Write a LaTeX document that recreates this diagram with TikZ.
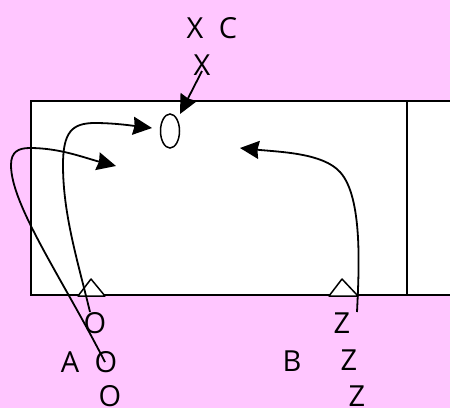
\documentclass[tikz,border=0pt]{standalone}
\usepackage{fontspec}
\setmainfont{Open Sans}
\usepackage{xcolor}
\usetikzlibrary{arrows.meta, positioning, calc, shapes.geometric}
\definecolor{bgpink}{HTML}{FFC6FF}
\tikzset{
  player/.style={inner sep=0pt, text=black, font=\fontsize{29}{29}\selectfont},
  cone/.style={draw=black, fill=white, line width=1.5pt, line join=round},
  arrow/.style={line width=1.8pt, -{Stealth[length=19pt, width=18pt, inset=1.5pt]}},
}
\begin{document}
\begin{tikzpicture}[x=1pt, y=-1pt]
\useasboundingbox (0,0) rectangle (450,408);
\clip (0,0) rectangle (450,408);
\fill[bgpink] (0,0) rectangle (450,408);

% Pitch
\draw[fill=white, line width=1.5pt] (31,101) rectangle (470,295);
\draw[line width=1.5pt] (407,101) -- (407,295);
\draw[cone] (78,296) -- (91,279) -- (105,296) -- cycle;
\draw[cone] (329,296) -- (342,279) -- (358,296) -- cycle;

% Top group
\node[player] (x1) at (195,28) {X};
\node[player] (c1) at (228,28) {C};
\node[player] (x2) at (202,65) {X};
\node[draw, ellipse, line width=1.5pt, fill=white, inner sep=0pt, minimum width=19pt, minimum height=34pt] (ball) at (170,131) {};

% Left group
\node[player] (o1) at (95,323) {O};
\node[player] (a1) at (70,362) {A};
\node[player] (o2) at (106,362) {O};
\node[player] (o3) at (110,396) {O};

% Right group
\node[player] (z1) at (342,323) {Z};
\node[player] (b1) at (292,361) {B};
\node[player] (z2) at (349,360) {Z};
\node[player] (z3) at (357,396) {Z};

% Free ends
\coordinate (s1) at (90,312);
\coordinate (s2) at (105,362);
\coordinate (s3) at (357,312);
\coordinate (e1) at (152,128);
\coordinate (e2) at (116,166);
\coordinate (e3) at (240,148);
\coordinate (s4) at (202,71);
\coordinate (e4) at (180,114);

\draw[arrow] (s4) -- (e4);
\draw[arrow] (s1) .. controls (78,262) and (63,215) .. (63,165) .. controls (63,132) and (72,123) .. (95,123) .. controls (115,123) and (135,126) .. (e1);
\draw[arrow] (s2) .. controls (62,278) and (11,205) .. (11,165) .. controls (11,152) and (18,148) .. (30,148) .. controls (60,148) and (85,158) .. (e2);
\draw[arrow] (s3) .. controls (359,270) and (363,197) .. (340,172) .. controls (323,153) and (280,152) .. (e3);
\end{tikzpicture}
\end{document}
